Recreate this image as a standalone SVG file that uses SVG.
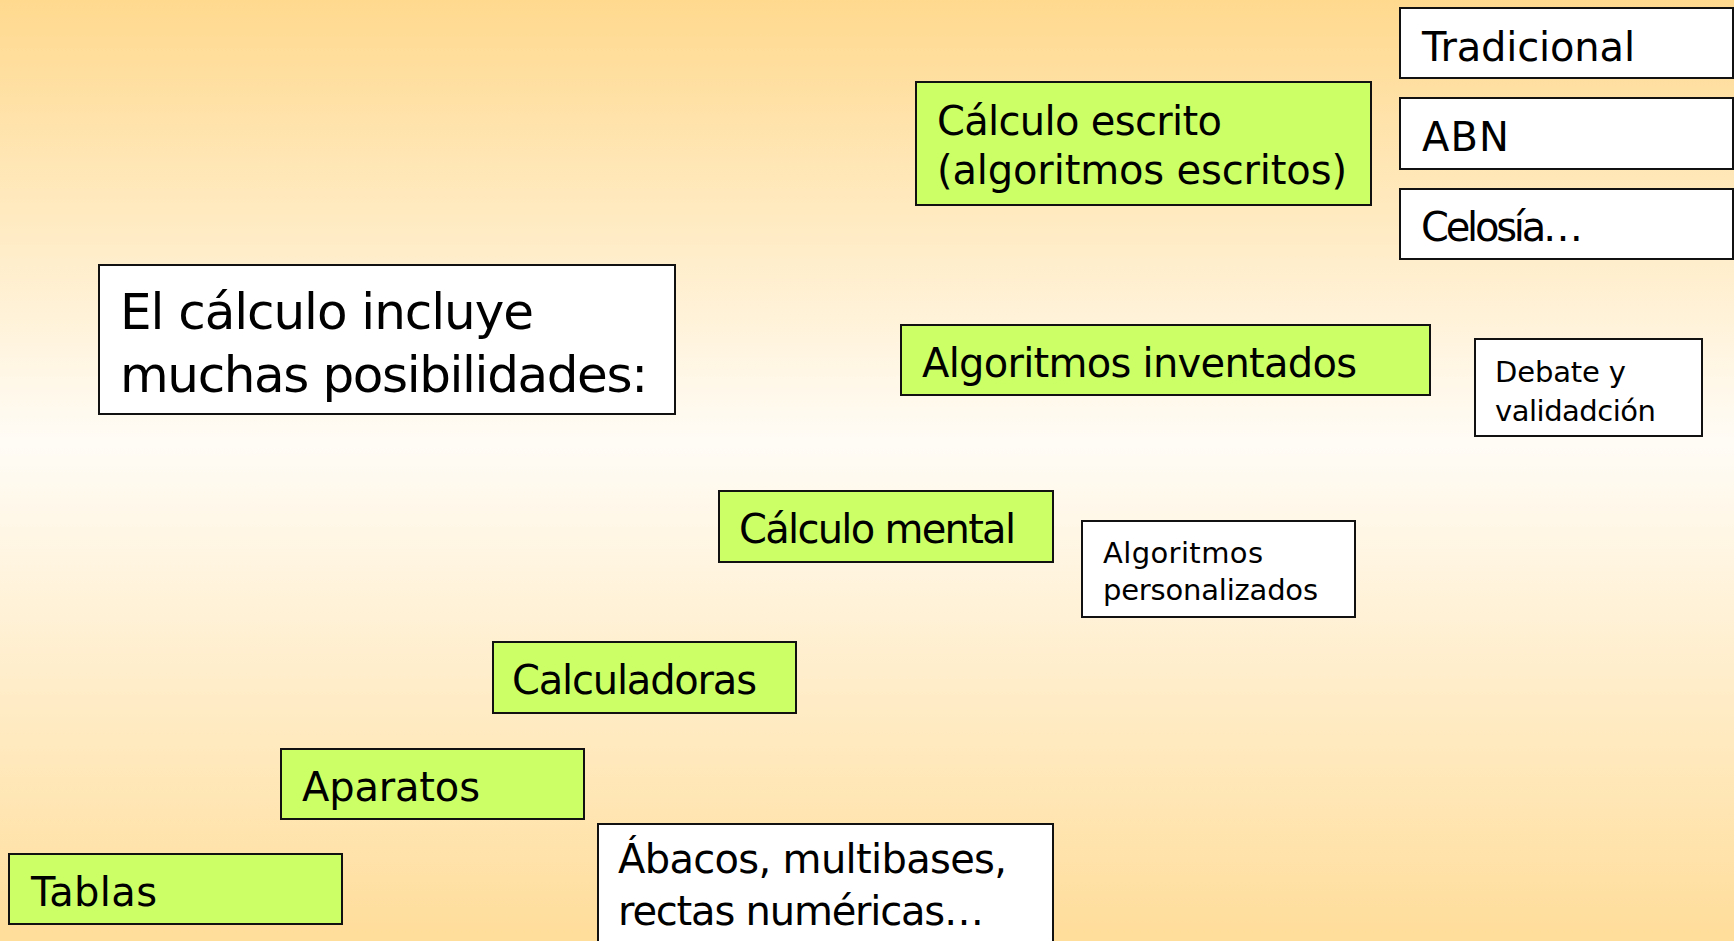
<svg xmlns="http://www.w3.org/2000/svg" width="1734" height="941" viewBox="0 0 1734 941">
<defs>
<linearGradient id="bg" x1="0" y1="0" x2="0" y2="1">
<stop offset="0" stop-color="#FFD98E"/>
<stop offset="0.47" stop-color="#FFFCF6"/>
<stop offset="1" stop-color="#FFDD9A"/>
</linearGradient>
<style>
.g{fill:#CCFF66;stroke:#111;stroke-width:2}
.w{fill:#FFFFFF;stroke:#111;stroke-width:2}
text{font-family:"DejaVu Sans","Liberation Sans",sans-serif;fill:#000}
.m{font-size:40px}
.s{font-size:29px}
.t{font-size:50px}
</style>
</defs>
<rect x="0" y="0" width="1734" height="941" fill="url(#bg)"/>
<g id="connectors"></g>
<g id="n-tradicional"><rect class="w" x="1400" y="8" width="333" height="70"/><text class="m" x="1422" y="61" textLength="213" lengthAdjust="spacing">Tradicional</text></g>
<g id="n-abn"><rect class="w" x="1400" y="98" width="333" height="71"/><text class="m" x="1422" y="151" textLength="87" lengthAdjust="spacing">ABN</text></g>
<g id="n-celosia"><rect class="w" x="1400" y="189" width="333" height="70"/><text class="m" x="1421" y="241" textLength="162" lengthAdjust="spacing">Celosía…</text></g>
<g id="n-escrito"><rect class="g" x="916" y="82" width="455" height="123"/><text class="m" x="937" y="135" textLength="285" lengthAdjust="spacing">Cálculo escrito</text><text class="m" x="937" y="184" textLength="410" lengthAdjust="spacing">(algoritmos escritos)</text></g>
<g id="n-titulo"><rect class="w" x="99" y="265" width="576" height="149"/><text class="t" x="120" y="329" textLength="414" lengthAdjust="spacing">El cálculo incluye</text><text class="t" x="120" y="392" textLength="528" lengthAdjust="spacing">muchas posibilidades:</text></g>
<g id="n-inventados"><rect class="g" x="901" y="325" width="529" height="70"/><text class="m" x="922" y="377" textLength="435" lengthAdjust="spacing">Algoritmos inventados</text></g>
<g id="n-debate"><rect class="w" x="1475" y="339" width="227" height="97"/><text class="s" x="1495" y="382" textLength="131" lengthAdjust="spacing">Debate y</text><text class="s" x="1495" y="421" textLength="161" lengthAdjust="spacing">validadción</text></g>
<g id="n-mental"><rect class="g" x="719" y="491" width="334" height="71"/><text class="m" x="739" y="543" textLength="277" lengthAdjust="spacing">Cálculo mental</text></g>
<g id="n-personalizados"><rect class="w" x="1082" y="521" width="273" height="96"/><text class="s" x="1103" y="563" textLength="160" lengthAdjust="spacing">Algoritmos</text><text class="s" x="1103" y="600" textLength="215" lengthAdjust="spacing">personalizados</text></g>
<g id="n-calculadoras"><rect class="g" x="493" y="642" width="303" height="71"/><text class="m" x="512" y="694" textLength="245" lengthAdjust="spacing">Calculadoras</text></g>
<g id="n-aparatos"><rect class="g" x="281" y="749" width="303" height="70"/><text class="m" x="302" y="801" textLength="178" lengthAdjust="spacing">Aparatos</text></g>
<g id="n-tablas"><rect class="g" x="9" y="854" width="333" height="70"/><text class="m" x="31" y="906" textLength="126" lengthAdjust="spacing">Tablas</text></g>
<g id="n-abacos"><rect class="w" x="598" y="824" width="455" height="130"/><text class="m" x="618" y="873" textLength="389" lengthAdjust="spacing">Ábacos, multibases,</text><text class="m" x="618" y="925" textLength="366" lengthAdjust="spacing">rectas numéricas…</text></g>
</svg>
